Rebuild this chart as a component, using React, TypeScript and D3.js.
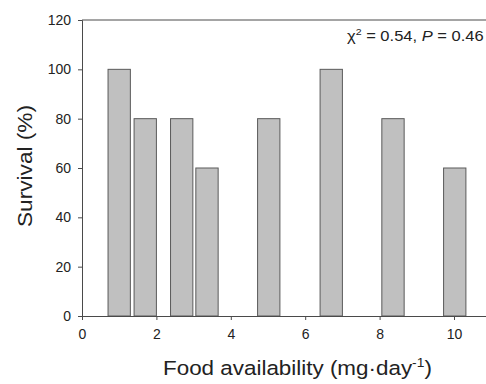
import { useEffect, useRef } from "react";
import * as d3 from "d3";

const foodLevels = [1.0, 1.7, 2.68, 3.36, 5.02, 6.7, 8.36, 10.02];
const survival = [100, 80, 80, 60, 80, 100, 80, 60];
const xTicks = [0, 2, 4, 6, 8, 10];
const yTicks = [0, 20, 40, 60, 80, 100, 120];
const barWidth = 0.6;

// stretch a text element horizontally so it spans [left, right]
function fitWidth(sel: d3.Selection<SVGTextElement, unknown, null, undefined>, left: number, right: number) {
  const box = (sel.node() as SVGTextElement).getBBox();
  const s = (right - left) / box.width;
  sel.attr("transform", `translate(${left},0) scale(${s},1) translate(${-box.x},0)`);
}

export default function App() {
  const ref = useRef<SVGSVGElement>(null);

  useEffect(() => {
    const svg = d3.select(ref.current);
    svg.selectAll("*").remove();

    const width = 486;
    const height = 384;
    const margin = { top: 20, left: 82, bottom: 68 };
    const font = "Liberation Sans, Arial, sans-serif";
    const axisColor = "#4a4a4a";
    const textColor = "#222";

    const x = d3.scaleLinear().domain([0, 11]).range([margin.left, margin.left + 11 * 37.2]);
    const y = d3.scaleLinear().domain([0, 120]).range([height - margin.bottom, margin.top]);

    const data = foodLevels.map((f, i) => ({ f, v: survival[i] }));

    svg
      .append("g")
      .selectAll("rect")
      .data(data)
      .join("rect")
      .attr("x", (d) => x(d.f - barWidth / 2))
      .attr("width", (d) => x(d.f + barWidth / 2) - x(d.f - barWidth / 2))
      .attr("y", (d) => y(d.v))
      .attr("height", (d) => y(0) - y(d.v))
      .attr("fill", "#c0c0c0")
      .attr("stroke", "#5a5a5a")
      .attr("stroke-width", 1);

    // top frame line
    svg
      .append("line")
      .attr("x1", x(0))
      .attr("x2", width)
      .attr("y1", y(120))
      .attr("y2", y(120))
      .attr("stroke", axisColor);

    const xAxis = svg
      .append("g")
      .attr("transform", `translate(0,${y(0)})`)
      .call(d3.axisBottom(x).tickValues(xTicks).tickSizeOuter(0).tickSize(4).tickPadding(9));
    xAxis.select(".domain").attr("stroke", axisColor);
    xAxis.selectAll("line").attr("stroke", axisColor);
    xAxis.selectAll("text").attr("font-family", font).attr("font-size", 14).attr("fill", textColor);

    const yAxis = svg
      .append("g")
      .attr("transform", `translate(${x(0)},0)`)
      .call(d3.axisLeft(y).tickValues(yTicks).tickSizeOuter(0).tickSize(4).tickPadding(7));
    yAxis.select(".domain").attr("stroke", axisColor);
    yAxis.selectAll("line").attr("stroke", axisColor);
    yAxis.selectAll("text").attr("font-family", font).attr("font-size", 14).attr("fill", textColor);

    svg
      .append("text")
      .attr("transform", `translate(32,166) rotate(-90)`)
      .attr("text-anchor", "middle")
      .attr("font-family", font)
      .attr("font-size", 20)
      .attr("fill", textColor)
      .attr("textLength", 122)
      .attr("lengthAdjust", "spacingAndGlyphs")
      .text("Survival (%)");

    const xl = svg
      .append("text")
      .attr("x", 0)
      .attr("y", 375)
      .attr("font-family", font)
      .attr("font-size", 19.5)
      .attr("fill", textColor);
    xl.append("tspan").text("Food availability (mg·day");
    xl.append("tspan").attr("font-size", 12).attr("dy", -8).text("-1");
    xl.append("tspan").attr("dy", 8).text(")");
    fitWidth(xl, 163, 432);

    const ann = svg
      .append("text")
      .attr("x", 0)
      .attr("y", 41.5)
      .attr("font-family", font)
      .attr("font-size", 14)
      .attr("fill", textColor);
    ann.append("tspan").text("χ");
    ann.append("tspan").attr("font-size", 9).attr("dy", -6).text("2");
    ann.append("tspan").attr("dy", 6).text(" = 0.54, ");
    ann.append("tspan").attr("font-style", "italic").text("P");
    ann.append("tspan").text(" = 0.46");
    fitWidth(ann, 347, 484);
  }, []);

  return (
    <svg
      ref={ref}
      width={486}
      height={384}
      style={{ position: "absolute", left: 0, top: 0, background: "#fff" }}
    />
  );
}
